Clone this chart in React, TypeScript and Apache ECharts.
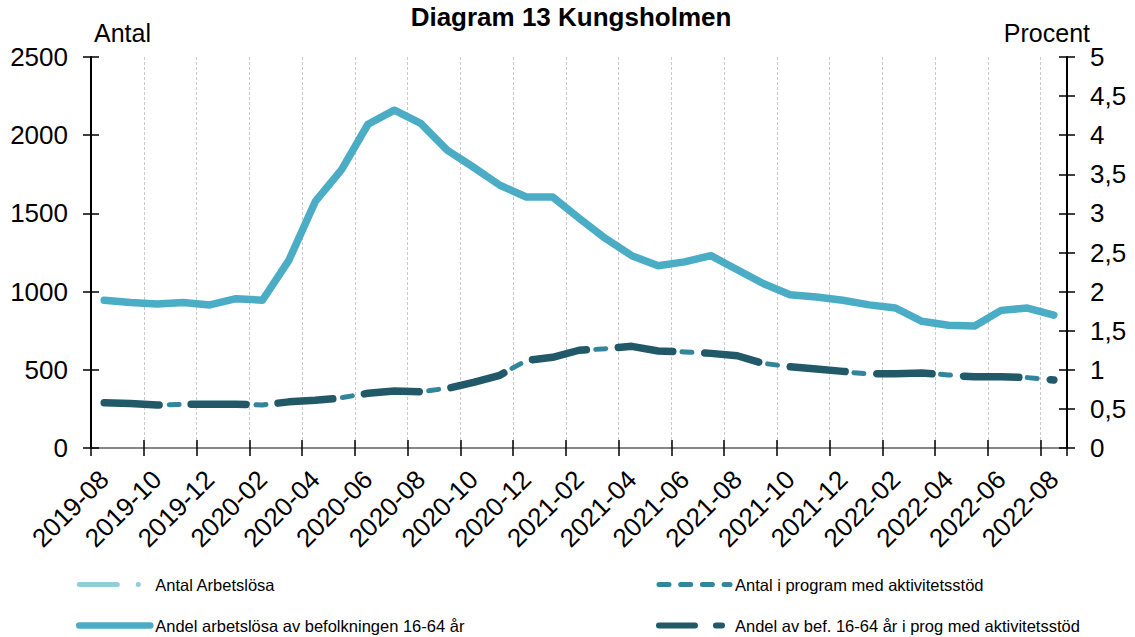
import React, { useEffect, useRef } from "react";
import * as echarts from "echarts";

const months = [
  "2019-08", "2019-09", "2019-10", "2019-11", "2019-12",
  "2020-01", "2020-02", "2020-03", "2020-04", "2020-05", "2020-06",
  "2020-07", "2020-08", "2020-09", "2020-10", "2020-11", "2020-12",
  "2021-01", "2021-02", "2021-03", "2021-04", "2021-05", "2021-06",
  "2021-07", "2021-08", "2021-09", "2021-10", "2021-11", "2021-12",
  "2022-01", "2022-02", "2022-03", "2022-04", "2022-05", "2022-06",
  "2022-07", "2022-08",
];

const antalArbetslosa = [
  946, 931, 919, 931, 914, 953, 946, 1198, 1575, 1782, 2072, 2161, 2076,
  1905, 1797, 1682, 1607, 1603, 1469, 1341, 1228, 1164, 1191, 1232, 1138,
  1049, 982, 963, 946, 914, 893, 808, 786, 780, 878, 895, 850,
];

const andelArbetslosa = [
  1.89, 1.86, 1.84, 1.86, 1.83, 1.91, 1.89, 2.4, 3.15, 3.56, 4.14, 4.32, 4.15,
  3.81, 3.59, 3.36, 3.21, 3.21, 2.94, 2.68, 2.46, 2.33, 2.38, 2.46, 2.28,
  2.1, 1.96, 1.93, 1.89, 1.83, 1.79, 1.62, 1.57, 1.56, 1.76, 1.79, 1.7,
];

const antalProgram = [
  290, 283, 275, 279, 281, 279, 275, 294, 307, 322, 350, 366, 360, 382, 418,
  467, 558, 580, 623, 635, 652, 622, 614, 605, 588, 541, 520, 503, 488, 473,
  477, 482, 467, 456, 456, 450, 435,
];

const andelProgram = [
  0.58, 0.57, 0.55, 0.56, 0.56, 0.56, 0.55, 0.59, 0.61, 0.64, 0.7, 0.73, 0.72,
  0.76, 0.84, 0.93, 1.12, 1.16, 1.25, 1.27, 1.3, 1.24, 1.23, 1.21, 1.18, 1.08,
  1.04, 1.01, 0.98, 0.95, 0.95, 0.96, 0.93, 0.91, 0.91, 0.9, 0.87,
];

const leftTicks = ["0", "500", "1000", "1500", "2000", "2500"];
const rightTicks = ["0", "0,5", "1", "1,5", "2", "2,5", "3", "3,5", "4", "4,5", "5"];

const FONT = '"Liberation Sans", Arial, sans-serif';

const NAME_A = "Antal Arbetslösa";
const NAME_B = "Andel arbetslösa av befolkningen 16-64 år";
const NAME_C = "Antal i program med aktivitetsstöd";
const NAME_D = "Andel av bef. 16-64 år i prog med aktivitetsstöd";

const STYLE_A = { color: "#92CDDC", width: 5, type: [38, 21, 0.1, 21], cap: "round", join: "round" };
const STYLE_B = { color: "#4BACC6", width: 7.5, type: "solid", cap: "round", join: "round" };
const STYLE_C = { color: "#31859C", width: 5, type: [10, 11.7], cap: "round", join: "round" };
const STYLE_D = { color: "#215968", width: 7.5, type: [55, 32], cap: "round", join: "round" };
const STYLE_D_LEGEND = { color: "#215968", width: 6, type: [36, 21, 6, 30], cap: "round", join: "round" };

export default function App() {
  const ref = useRef<HTMLDivElement>(null);

  useEffect(() => {
    document.body.style.margin = "0";
    const chart = echarts.init(ref.current as HTMLDivElement, null, { renderer: "svg" });

    const axisBlack = { color: "#000", width: 2 };
    const tickStyle = { color: "#000", width: 1.5 };
    const hiddenSymbol = { color: "transparent", borderColor: "transparent", borderWidth: 0, opacity: 0 };
    const legendBase = {
      type: "plain",
      orient: "vertical",
      top: 576,
      padding: 0,
      itemWidth: 71,
      itemHeight: 14,
      itemGap: 24,
      selectedMode: false,
      itemStyle: hiddenSymbol,
      textStyle: { fontSize: 16.5, color: "#000", fontFamily: FONT },
    };

    const option: any = {
      animation: false,
      backgroundColor: "#fff",
      textStyle: { fontFamily: FONT },
      grid: {
        left: 91,
        right: 68,
        top: 57,
        bottom: 189,
        containLabel: false,
        outerBoundsMode: "none",
      },
      graphic: [
        {
          type: "text",
          x: 571,
          y: 4,
          style: {
            text: "Diagram 13 Kungsholmen",
            fontSize: 26,
            fontWeight: "bold",
            fontFamily: FONT,
            fill: "#000",
            align: "center",
            verticalAlign: "top",
          },
        },
        {
          type: "text",
          x: 94,
          y: 20,
          style: {
            text: "Antal",
            fontSize: 25,
            fontFamily: FONT,
            fill: "#000",
            align: "left",
            verticalAlign: "top",
          },
        },
        {
          type: "text",
          x: 1090,
          y: 20,
          style: {
            text: "Procent",
            fontSize: 25,
            fontFamily: FONT,
            fill: "#000",
            align: "right",
            verticalAlign: "top",
          },
        },
      ],
      legend: [
        {
          ...legendBase,
          left: 76,
          data: [
            { name: NAME_A, lineStyle: STYLE_A, itemStyle: hiddenSymbol },
            { name: NAME_B, lineStyle: { ...STYLE_B, width: 6.5 }, itemStyle: hiddenSymbol },
          ],
        },
        {
          ...legendBase,
          left: 656,
          data: [
            { name: NAME_C, lineStyle: STYLE_C, itemStyle: hiddenSymbol },
            { name: NAME_D, lineStyle: STYLE_D_LEGEND, itemStyle: hiddenSymbol },
          ],
        },
      ],
      xAxis: [
        {
          type: "category",
          data: months,
          boundaryGap: true,
          position: "bottom",
          axisLine: { show: true, lineStyle: axisBlack },
          axisTick: { show: true, interval: 1, length: 8, lineStyle: tickStyle },
          axisLabel: {
            interval: 1,
            rotate: 45,
            fontSize: 26,
            color: "#000",
            fontFamily: FONT,
            margin: 27,
          },
          splitLine: {
            show: true,
            interval: 1,
            lineStyle: { color: "#c8c8c8", width: 1, type: [3, 2] },
          },
        },
        {
          type: "category",
          data: months,
          boundaryGap: true,
          position: "bottom",
          axisLine: { show: false },
          axisTick: { show: true, inside: true, interval: 1, length: 8, lineStyle: tickStyle },
          axisLabel: { show: false },
          splitLine: { show: false },
        },
        {
          type: "category",
          data: months,
          boundaryGap: true,
          position: "top",
          axisLine: { show: true, lineStyle: { color: "#868686", width: 2 } },
          axisTick: { show: false },
          axisLabel: { show: false },
          splitLine: { show: false },
        },
      ],
      yAxis: [
        {
          type: "value",
          position: "left",
          min: 0,
          max: 2500,
          interval: 500,
          axisLine: { show: true, lineStyle: axisBlack },
          axisTick: { show: true, length: 8, lineStyle: tickStyle },
          axisLabel: {
            fontSize: 26,
            color: "#000",
            fontFamily: FONT,
            margin: 23,
            formatter: (v: number) => leftTicks[Math.round(v / 500)] ?? String(v),
          },
          splitLine: { show: false },
        },
        {
          type: "value",
          position: "right",
          min: 0,
          max: 5,
          interval: 0.5,
          axisLine: { show: true, lineStyle: axisBlack },
          axisTick: { show: true, length: 8, lineStyle: tickStyle },
          axisLabel: {
            fontSize: 26,
            color: "#000",
            fontFamily: FONT,
            margin: 23,
            formatter: (v: number) => rightTicks[Math.round(v * 2)] ?? String(v).replace(".", ","),
          },
          splitLine: { show: false },
        },
        {
          type: "value",
          position: "left",
          min: 0,
          max: 2500,
          interval: 500,
          axisLine: { show: false },
          axisTick: { show: true, inside: true, length: 8, lineStyle: tickStyle },
          axisLabel: { show: false },
          splitLine: { show: false },
        },
        {
          type: "value",
          position: "right",
          min: 0,
          max: 5,
          interval: 0.5,
          axisLine: { show: false },
          axisTick: { show: true, inside: true, length: 8, lineStyle: tickStyle },
          axisLabel: { show: false },
          splitLine: { show: false },
        },
      ],
      series: [
        {
          name: NAME_A,
          type: "line",
          yAxisIndex: 0,
          data: antalArbetslosa,
          symbol: "none",
          color: STYLE_A.color,
          lineStyle: STYLE_A,
        },
        {
          name: NAME_B,
          type: "line",
          yAxisIndex: 1,
          data: andelArbetslosa,
          symbol: "none",
          color: STYLE_B.color,
          lineStyle: STYLE_B,
        },
        {
          name: NAME_C,
          type: "line",
          yAxisIndex: 0,
          data: antalProgram,
          symbol: "none",
          color: STYLE_C.color,
          lineStyle: STYLE_C,
        },
        {
          name: NAME_D,
          type: "line",
          yAxisIndex: 1,
          data: andelProgram,
          symbol: "none",
          color: STYLE_D.color,
          lineStyle: STYLE_D,
        },
      ],
    };

    chart.setOption(option);
    return () => chart.dispose();
  }, []);

  return <div ref={ref} style={{ width: 1135, height: 637 }} />;
}
